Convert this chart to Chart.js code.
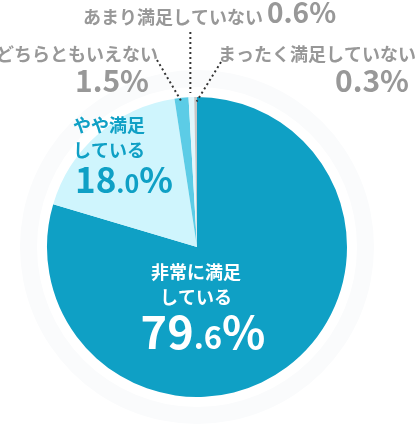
<!DOCTYPE html>
<html lang="ja">
<head>
<meta charset="utf-8">
<script src="https://cdn.jsdelivr.net/npm/chart.js@4/dist/chart.umd.min.js"></script>
<style>
  html, body { margin: 0; padding: 0; background: #fff; }
  #chart { display: block; }
</style>
</head>
<body>
<canvas id="chart" width="416" height="428"></canvas>
<script>
// Satisfaction survey data (clockwise from 12 o'clock)
const categories = ['非常に満足している', 'やや満足している', 'どちらともいえない', 'あまり満足していない', 'まったく満足していない'];
const values = [79.6, 18.0, 1.5, 0.6, 0.3];
const colors = ['#0fa0c5', '#cff5fd', '#5ccce6', '#e2f7fc', '#c6c6c6'];

const JP = '"Noto Sans CJK JP", "Noto Sans", sans-serif';
const GRAY = '#989898';
const BLUE = '#0fa0c5';

// Draw "79" + ".6" + "%" with a smaller decimal part
function drawPercent(ctx, value, x, y, bigSize, smallSize, align, color) {
  const [intPart, decPart] = value.toFixed(1).split('.');
  const parts = [
    { t: intPart, s: bigSize },
    { t: '.' + decPart, s: smallSize },
    { t: '%', s: bigSize }
  ];
  let total = 0;
  parts.forEach(p => {
    ctx.font = `bold ${p.s}px ${JP}`;
    p.w = ctx.measureText(p.t).width;
    total += p.w;
  });
  let cx = align === 'right' ? x - total : align === 'center' ? x - total / 2 : x;
  ctx.fillStyle = color;
  ctx.textAlign = 'left';
  ctx.textBaseline = 'alphabetic';
  parts.forEach(p => {
    ctx.font = `bold ${p.s}px ${JP}`;
    ctx.fillText(p.t, cx, y);
    cx += p.w;
  });
}

function text(ctx, str, x, y, size, color, align) {
  ctx.font = `bold ${size}px ${JP}`;
  ctx.fillStyle = color;
  ctx.textAlign = align;
  ctx.textBaseline = 'middle';
  ctx.fillText(str, x, y);
}

// faint halo ring behind the pie
const haloPlugin = {
  id: 'halo',
  beforeDatasetsDraw(chart) {
    const arc = chart.getDatasetMeta(0).data[0];
    if (!arc) return;
    const ctx = chart.ctx;
    ctx.save();
    ctx.beginPath();
    ctx.arc(arc.x, arc.y, arc.outerRadius + 27, 0, Math.PI * 2);
    ctx.arc(arc.x, arc.y, arc.outerRadius + 10, 0, Math.PI * 2, true);
    ctx.fillStyle = '#fafbfc';
    ctx.fill();
    ctx.restore();
  }
};

// labels and dotted leader lines
const labelPlugin = {
  id: 'labels',
  afterDatasetsDraw(chart) {
    const ctx = chart.ctx;
    const arcs = chart.getDatasetMeta(0).data;
    const mid = (i, f) => {
      const a = arcs[i];
      const ang = (a.startAngle + a.endAngle) / 2;
      return { x: a.x + Math.cos(ang) * a.outerRadius * f, y: a.y + Math.sin(ang) * a.outerRadius * f };
    };
    ctx.save();

    // leader lines
    ctx.strokeStyle = '#333';
    ctx.lineWidth = 2;
    ctx.setLineDash([2, 3]);
    const p2 = mid(2, 0.97);
    ctx.beginPath(); ctx.moveTo(157, 60); ctx.lineTo(p2.x, p2.y); ctx.stroke();
    const p3 = mid(3, 1);
    ctx.beginPath(); ctx.moveTo(p3.x - 1, 32); ctx.lineTo(p3.x - 1, p3.y - 4); ctx.stroke();
    const p4 = mid(4, 0.97);
    ctx.beginPath(); ctx.moveTo(221, 62); ctx.lineTo(p4.x + 1, p4.y); ctx.stroke();
    ctx.setLineDash([]);

    // outside labels
    text(ctx, 'あまり満足していない', 83, 17, 18, GRAY, 'left');
    drawPercent(ctx, values[3], 267, 23, 28, 28, 'left', GRAY);
    text(ctx, 'どちらともいえない', 158, 54, 18, GRAY, 'right');
    drawPercent(ctx, values[2], 149, 92, 30, 30, 'right', GRAY);
    text(ctx, 'まったく満足していない', 416, 54, 18, GRAY, 'right');
    drawPercent(ctx, values[4], 409, 92, 30, 30, 'right', GRAY);

    // inside labels
    text(ctx, 'やや満足', 73, 125, 18, BLUE, 'left');
    text(ctx, 'している', 73, 150, 18, BLUE, 'left');
    drawPercent(ctx, values[1], 75, 193, 35, 25, 'left', BLUE);

    text(ctx, '非常に満足', 196, 272, 18, '#fff', 'center');
    text(ctx, 'している', 196, 297, 18, '#fff', 'center');
    drawPercent(ctx, values[0], 203, 349, 45, 31, 'center', '#fff');

    ctx.restore();
  }
};

new Chart(document.getElementById('chart'), {
  type: 'pie',
  data: {
    labels: categories,
    datasets: [{
      data: values,
      backgroundColor: colors,
      borderWidth: 0
    }]
  },
  options: {
    responsive: false,
    animation: false,
    layout: { padding: { left: 47, right: 69, top: 97, bottom: 31 } },
    plugins: {
      legend: { display: false },
      tooltip: { enabled: false }
    }
  },
  plugins: [haloPlugin, labelPlugin]
});
</script>
</body>
</html>
